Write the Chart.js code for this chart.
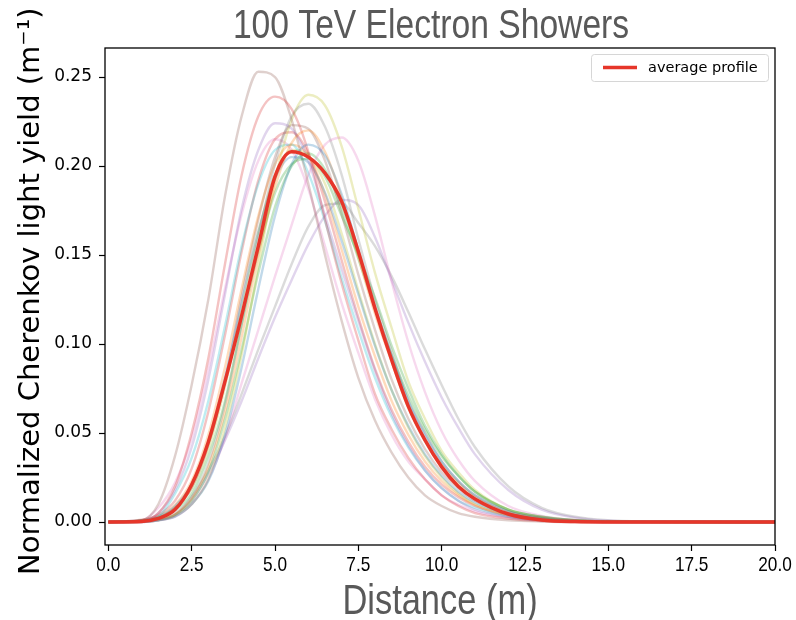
<!DOCTYPE html>
<html>
<head>
<meta charset="utf-8">
<title>100 TeV Electron Showers</title>
<script src="https://cdn.jsdelivr.net/npm/chart.js@4.4.1/dist/chart.umd.min.js"></script>
<style>
  html, body { margin: 0; padding: 0; background: #fff; }
  #showerChart { display: block; }
</style>
</head>
<body>
<canvas id="showerChart" width="796" height="620"></canvas>
<script>
// distance along the shower axis (m)
const distance = [0, 1, 1.5, 2, 2.5, 3, 3.5, 4, 4.5, 5, 5.5, 6, 6.5, 7, 7.5, 8, 8.5, 9, 9.5, 10, 10.5, 11, 12, 13, 14, 16, 20];

// normalized light yield of the individual showers (m^-1)
const shower01 = [0, 0.0002, 0.001, 0.003, 0.010, 0.023, 0.049, 0.087, 0.131, 0.172, 0.201, 0.212, 0.206, 0.184, 0.153, 0.121, 0.093, 0.068, 0.049, 0.034, 0.023, 0.015, 0.006, 0.0023, 0.0008, 0.0001, 0];
const shower02 = [0, 0.0004, 0.0015, 0.0044, 0.013, 0.031, 0.062, 0.104, 0.150, 0.188, 0.213, 0.220, 0.208, 0.182, 0.149, 0.117, 0.090, 0.064, 0.046, 0.032, 0.022, 0.014, 0.0055, 0.0022, 0.0008, 0.0001, 0];
const shower03 = [0, 0.0006, 0.002, 0.0066, 0.016, 0.037, 0.068, 0.111, 0.152, 0.185, 0.201, 0.204, 0.194, 0.172, 0.150, 0.126, 0.099, 0.075, 0.054, 0.038, 0.026, 0.017, 0.007, 0.003, 0.001, 0.0001, 0];
const shower04 = [0, 0.0005, 0.005, 0.020, 0.050, 0.092, 0.145, 0.195, 0.228, 0.239, 0.232, 0.208, 0.170, 0.134, 0.102, 0.072, 0.052, 0.036, 0.024, 0.015, 0.009, 0.005, 0.002, 0.0005, 0, 0, 0];
const shower05 = [0, 0.0004, 0.005, 0.018, 0.042, 0.080, 0.128, 0.176, 0.209, 0.224, 0.221, 0.203, 0.172, 0.142, 0.113, 0.085, 0.061, 0.043, 0.029, 0.019, 0.012, 0.007, 0.003, 0.001, 0.0003, 0, 0];
const shower06 = [0, 0.001, 0.010, 0.037, 0.077, 0.125, 0.183, 0.228, 0.253, 0.250, 0.226, 0.190, 0.150, 0.113, 0.081, 0.057, 0.039, 0.025, 0.015, 0.009, 0.005, 0.003, 0.001, 0.0003, 0, 0, 0];
const shower07 = [0, 0, 0.001, 0.003, 0.010, 0.024, 0.047, 0.078, 0.108, 0.138, 0.167, 0.195, 0.212, 0.216, 0.203, 0.172, 0.135, 0.101, 0.073, 0.051, 0.035, 0.023, 0.009, 0.0035, 0.0012, 0.0002, 0];
const shower08 = [0, 0.0005, 0.0017, 0.005, 0.014, 0.033, 0.066, 0.111, 0.160, 0.201, 0.228, 0.235, 0.222, 0.195, 0.159, 0.125, 0.096, 0.068, 0.050, 0.034, 0.023, 0.015, 0.006, 0.0024, 0.0009, 0.0001, 0];
const shower09 = [0, 0.0002, 0.001, 0.0034, 0.010, 0.024, 0.053, 0.094, 0.144, 0.192, 0.226, 0.240, 0.234, 0.211, 0.176, 0.140, 0.109, 0.079, 0.058, 0.040, 0.028, 0.018, 0.007, 0.0028, 0.001, 0.0001, 0];
const shower10 = [0, 0.0003, 0.003, 0.016, 0.036, 0.068, 0.110, 0.155, 0.190, 0.209, 0.212, 0.196, 0.169, 0.137, 0.108, 0.081, 0.059, 0.042, 0.029, 0.019, 0.012, 0.008, 0.003, 0.001, 0.0004, 0, 0];
const shower11 = [0, 0.001, 0.003, 0.009, 0.021, 0.045, 0.081, 0.123, 0.163, 0.193, 0.205, 0.202, 0.185, 0.158, 0.128, 0.099, 0.074, 0.054, 0.038, 0.026, 0.017, 0.011, 0.0045, 0.0018, 0.0006, 0, 0];
const shower12 = [0, 0.001, 0.0032, 0.0095, 0.023, 0.049, 0.087, 0.131, 0.172, 0.201, 0.212, 0.206, 0.184, 0.153, 0.121, 0.093, 0.068, 0.049, 0.034, 0.023, 0.015, 0.0095, 0.0038, 0.0015, 0.0005, 0, 0];
const shower13 = [0, 0.0004, 0.0014, 0.004, 0.012, 0.028, 0.058, 0.097, 0.140, 0.177, 0.200, 0.207, 0.198, 0.176, 0.148, 0.120, 0.094, 0.071, 0.052, 0.037, 0.026, 0.017, 0.007, 0.003, 0.001, 0.0001, 0];
const shower14 = [0, 0.0013, 0.004, 0.012, 0.030, 0.062, 0.105, 0.152, 0.192, 0.215, 0.219, 0.207, 0.180, 0.147, 0.115, 0.086, 0.063, 0.045, 0.031, 0.021, 0.014, 0.009, 0.0035, 0.0013, 0.0004, 0, 0];
const shower15 = [0, 0, 0.001, 0.004, 0.012, 0.027, 0.046, 0.068, 0.092, 0.115, 0.136, 0.156, 0.172, 0.181, 0.178, 0.160, 0.136, 0.112, 0.090, 0.070, 0.053, 0.038, 0.018, 0.007, 0.0025, 0.0003, 0];
const shower16 = [0, 0.0007, 0.0025, 0.008, 0.019, 0.043, 0.079, 0.127, 0.170, 0.205, 0.223, 0.221, 0.203, 0.173, 0.139, 0.108, 0.080, 0.058, 0.041, 0.028, 0.019, 0.012, 0.0047, 0.0018, 0.0007, 0.0001, 0];
const shower17 = [0, 0.001, 0.008, 0.022, 0.047, 0.086, 0.131, 0.173, 0.203, 0.215, 0.209, 0.187, 0.155, 0.123, 0.095, 0.069, 0.049, 0.034, 0.024, 0.015, 0.0097, 0.006, 0.0024, 0.0009, 0.0003, 0, 0];
const shower18 = [0, 0, 0.001, 0.004, 0.014, 0.029, 0.048, 0.072, 0.097, 0.121, 0.145, 0.166, 0.178, 0.179, 0.168, 0.155, 0.138, 0.118, 0.097, 0.077, 0.058, 0.042, 0.020, 0.008, 0.003, 0.0003, 0];
const shower19 = [0, 0.0007, 0.0025, 0.008, 0.019, 0.041, 0.076, 0.120, 0.163, 0.195, 0.209, 0.206, 0.190, 0.162, 0.130, 0.100, 0.074, 0.053, 0.037, 0.025, 0.016, 0.010, 0.004, 0.0016, 0.0005, 0, 0];

// mean over all showers
const averageProfile = [0, 0.0003, 0.002, 0.007, 0.021, 0.045, 0.079, 0.116, 0.155, 0.194, 0.208, 0.205, 0.196, 0.180, 0.152, 0.120, 0.091, 0.065, 0.046, 0.031, 0.020, 0.013, 0.0045, 0.0012, 0.0003, 0, 0];

const showers = [
  shower01, shower02, shower03, shower04, shower05, shower06, shower07, shower08, shower09, shower10,
  shower11, shower12, shower13, shower14, shower15, shower16, shower17, shower18, shower19
];

const xTicks = [0, 2.5, 5, 7.5, 10, 12.5, 15, 17.5, 20];
const yTicks = [0, 0.05, 0.10, 0.15, 0.20, 0.25];

const chartTitle = '100 TeV Electron Showers';
const xTitle = 'Distance (m)';
const yTitle = 'Normalized Cherenkov light yield (m⁻¹)';

// matplotlib tab10 cycle
const tab10 = ['#1f77b4', '#ff7f0e', '#2ca02c', '#d62728', '#9467bd', '#8c564b', '#e377c2', '#7f7f7f', '#bcbd22', '#17becf'];
const AVG_COLOUR = '#e6362a';
const TEXT_GREY = '#595959';

function hexToRGBA(hex, opacity) {
  const r = parseInt(hex.slice(1, 3), 16);
  const g = parseInt(hex.slice(3, 5), 16);
  const b = parseInt(hex.slice(5, 7), 16);
  return `rgba(${r}, ${g}, ${b}, ${opacity})`;
}

function toPoints(values) {
  return distance.map((x, i) => ({ x: x, y: values[i] }));
}

// no narrow face is installed, so squeeze Liberation Sans horizontally
function drawNarrow(ctx, text, x, y, size, colour) {
  ctx.save();
  ctx.font = `${size}px 'Liberation Sans', Arial, sans-serif`;
  ctx.fillStyle = colour;
  ctx.textAlign = 'center';
  ctx.textBaseline = 'alphabetic';
  ctx.translate(x, y);
  ctx.scale(0.82, 1);
  ctx.fillText(text, 0, 0);
  ctx.restore();
}

// closed box around the plotting area, drawn over the curves
const frameBoxPlugin = {
  id: 'frameBox',
  afterDatasetsDraw(chart) {
    const { ctx, chartArea } = chart;
    ctx.save();
    ctx.strokeStyle = '#000';
    ctx.lineWidth = 1.3;
    ctx.strokeRect(chartArea.left, chartArea.top, chartArea.right - chartArea.left, chartArea.bottom - chartArea.top);
    ctx.restore();
  }
};

// title, axis titles and x tick labels
const axisTextPlugin = {
  id: 'axisText',
  afterDraw(chart) {
    const { ctx, chartArea } = chart;
    const xScale = chart.scales.x;
    const midX = (chartArea.left + chartArea.right) / 2;

    drawNarrow(ctx, chartTitle, midX - 9, 38, 41, TEXT_GREY);
    drawNarrow(ctx, xTitle, midX, chartArea.bottom + 69, 42, TEXT_GREY);

    xTicks.forEach(v => {
      drawNarrow(ctx, v.toFixed(1), xScale.getPixelForValue(v), chartArea.bottom + 26, 21, '#000');
    });

    // y title reads bottom to top, starting below the axis
    ctx.save();
    ctx.translate(39, chartArea.bottom + 30);
    ctx.rotate(-Math.PI / 2);
    ctx.font = "29px 'DejaVu Sans'";
    ctx.fillStyle = '#000';
    ctx.textAlign = 'left';
    ctx.textBaseline = 'alphabetic';
    ctx.fillText(yTitle, 0, 0);
    ctx.restore();
  }
};

// small legend box in the upper right corner of the plot
const cornerLegendPlugin = {
  id: 'cornerLegend',
  afterDraw(chart) {
    const { ctx, chartArea } = chart;
    const label = chart.data.datasets[0].label;
    const w = 177, h = 27;
    const x = chartArea.right - 7 - w;
    const y = chartArea.top + 6;

    ctx.save();
    ctx.beginPath();
    ctx.roundRect(x + 0.5, y + 0.5, w, h, 3);
    ctx.fillStyle = 'rgba(255, 255, 255, 0.8)';
    ctx.fill();
    ctx.strokeStyle = '#d6d6d6';
    ctx.lineWidth = 1;
    ctx.stroke();

    ctx.beginPath();
    ctx.moveTo(x + 12, y + 13.5);
    ctx.lineTo(x + 46, y + 13.5);
    ctx.strokeStyle = AVG_COLOUR;
    ctx.lineWidth = 3.5;
    ctx.stroke();

    ctx.fillStyle = '#000';
    ctx.font = "14.5px 'DejaVu Sans'";
    ctx.textBaseline = 'middle';
    ctx.fillText(label, x + 57, y + 14);
    ctx.restore();
  }
};

const showerSets = showers.map((values, i) => ({
  label: 'shower ' + (i + 1),
  data: toPoints(values),
  borderColor: hexToRGBA(tab10[i % tab10.length], 0.28),
  borderWidth: 2.4,
  order: 1
}));

const ctx = document.getElementById('showerChart').getContext('2d');

const showerChart = new Chart(ctx, {
  type: 'line',
  data: {
    datasets: [
      {
        label: 'average profile',
        data: toPoints(averageProfile),
        borderColor: AVG_COLOUR,
        borderWidth: 3.5,
        order: 0
      },
      ...showerSets
    ]
  },
  options: {
    responsive: false,
    animation: false,
    events: [],
    layout: { padding: { top: 48, right: 21, bottom: 0, left: 0 } },
    elements: {
      point: { radius: 0 },
      line: { cubicInterpolationMode: 'monotone', fill: false }
    },
    scales: {
      x: {
        type: 'linear',
        min: -0.1,
        max: 20,
        afterFit(scale) { scale.height = 75; },
        afterBuildTicks(scale) { scale.ticks = xTicks.map(v => ({ value: v })); },
        border: { display: false },
        grid: { drawOnChartArea: false, drawTicks: true, tickLength: 6, tickColor: '#000', tickWidth: 1.2 },
        ticks: { display: false }
      },
      y: {
        type: 'linear',
        min: -0.0129,
        max: 0.2663,
        afterFit(scale) { scale.width = 105; },
        afterBuildTicks(scale) { scale.ticks = yTicks.map(v => ({ value: v })); },
        border: { display: false },
        grid: { drawOnChartArea: false, drawTicks: true, tickLength: 6, tickColor: '#000', tickWidth: 1.2 },
        ticks: {
          color: '#000',
          padding: 7,
          font: { family: 'DejaVu Sans', size: 17 },
          callback: (value) => value.toFixed(2)
        }
      }
    },
    plugins: {
      legend: { display: false },
      tooltip: { enabled: false },
      title: { display: false }
    }
  },
  plugins: [frameBoxPlugin, axisTextPlugin, cornerLegendPlugin]
});
</script>
</body>
</html>
